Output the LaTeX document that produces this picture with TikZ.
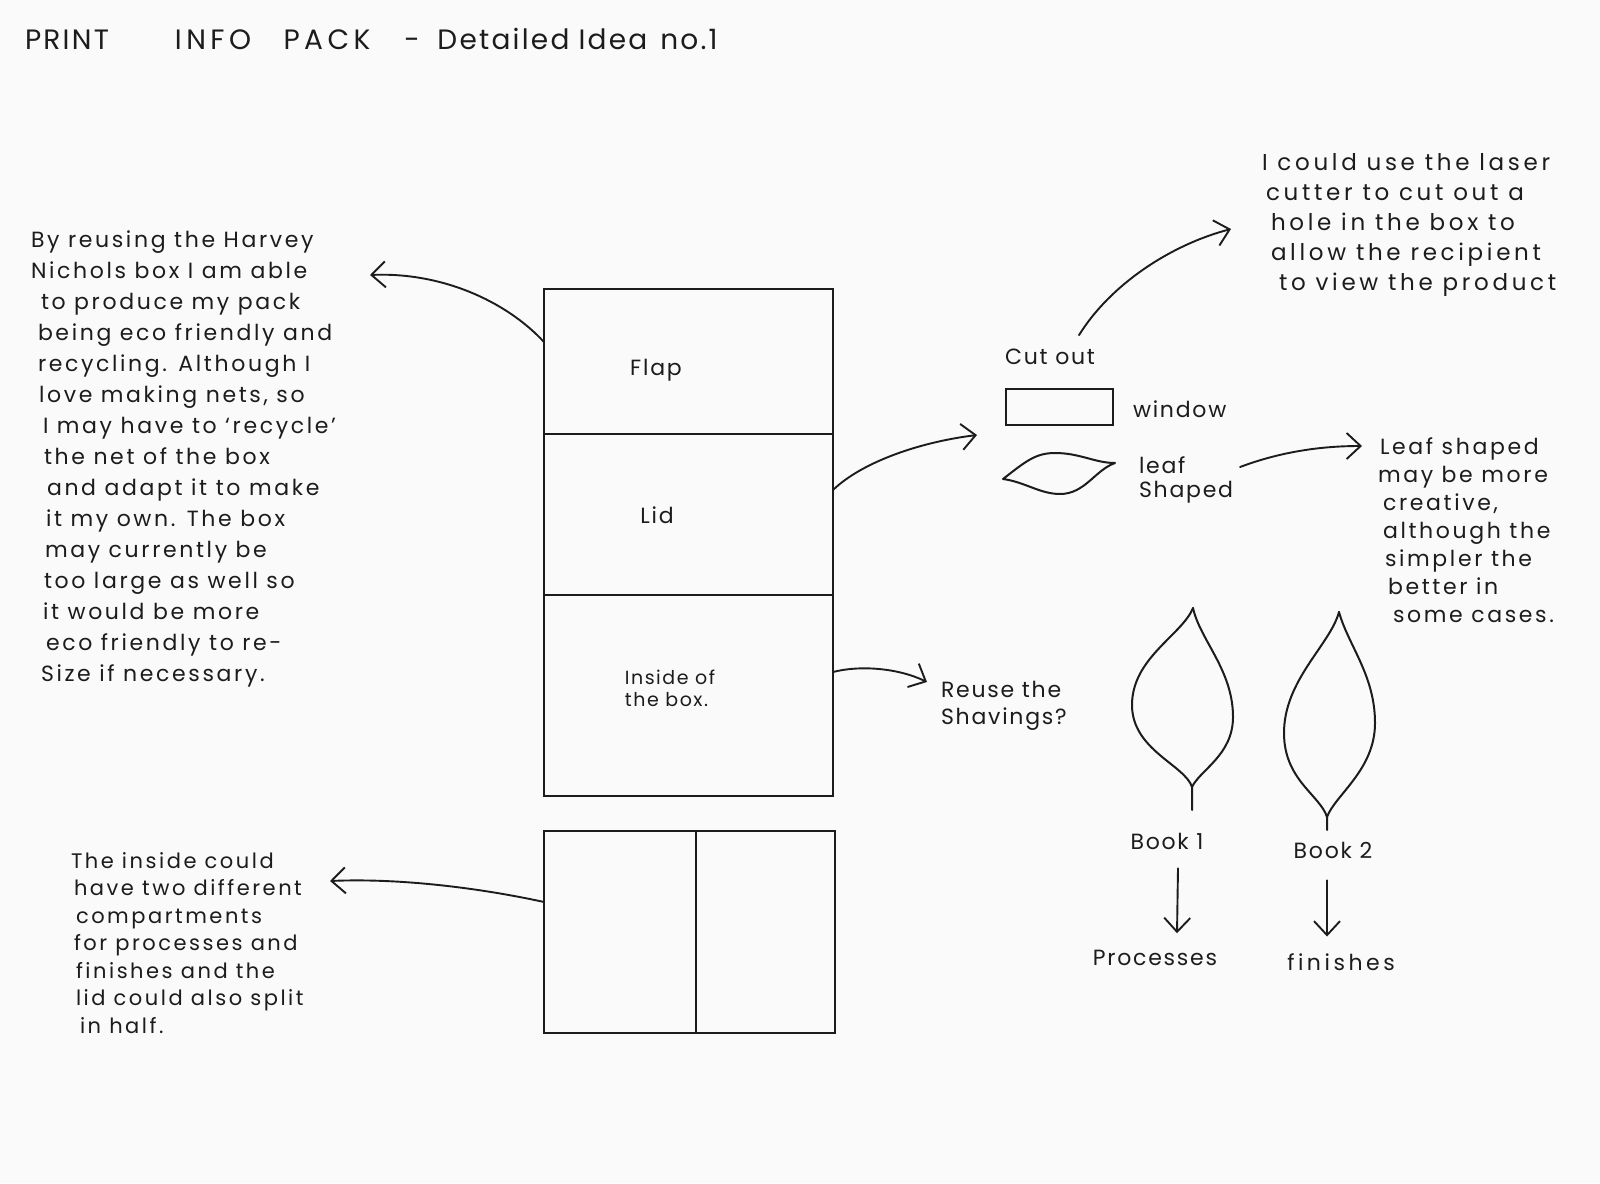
\documentclass[tikz,border=0pt]{standalone}
\usepackage{fontspec}
\setmainfont{Poppins}
\newfontfamily\hand[LetterSpace=8]{Poppins}
\newfontfamily\handmid[LetterSpace=12]{Poppins}
\newfontfamily\handwide[LetterSpace=16]{Poppins}
\usetikzlibrary{arrows.meta}
\definecolor{ink}{HTML}{1C1C1C}
\definecolor{paper}{HTML}{FAFAFA}
\begin{document}
\begin{tikzpicture}[x=1pt,y=-1pt,
  every node/.style={inner sep=0pt,outer sep=0pt},
  panel/.style={draw=ink,line width=2.5pt},
  shapeline/.style={draw=ink,line width=2pt,line join=round,line cap=round},
  link/.style={draw=ink,line width=1.9pt,line cap=round,-{Straight Barb[length=14pt,width=26pt]}},
  note/.style={text=ink,align=left,anchor=base west,font=\handmid\fontsize{22}{31}\selectfont},
  lbl/.style={text=ink,font=\hand\fontsize{22}{26}\selectfont,align=left}
]
\fill[paper] (0,0) rectangle (1600,1183);
\useasboundingbox (0,0) rectangle (1600,1183);

% title
\node[anchor=base west,text=ink,font=\hand\fontsize{28}{30}\selectfont] (title) at (22,49)
  {\makebox[90pt][c]{PRINT}\hspace{54pt}\makebox[94pt][c]{\handwide INFO}\hspace{18pt}\makebox[98pt][c]{\handwide PACK}\hspace{30pt}\makebox[12pt][c]{-}\hspace{23pt}\makebox[125pt][c]{Detailed}\hspace{15pt}\makebox[64pt][c]{Idea}\hspace{12pt}\makebox[64pt][c]{no.1}};

% notes (anchored at the baseline of their last line)
\node[note] (lefttext) at (31,681) {By reusing the Harvey\\
Nichols box I am able\\
\hspace*{10pt}to produce my pack\\
\hspace*{7pt}being eco friendly and\\
\hspace*{7pt}recycling. Although I\\
\hspace*{8pt}love making nets, so\\
\hspace*{12pt}I may have to ‘recycle’\\
\hspace*{13pt}the net of the box\\
\hspace*{16pt}and adapt it to make\\
\hspace*{15pt}it my own. The box\\
\hspace*{14pt}may currently be\\
\hspace*{13pt}too large as well so\\
\hspace*{12pt}it would be more\\
\hspace*{15pt}eco friendly to re-\\
\hspace*{10pt}Size if necessary.};

\node[note,font=\handwide\fontsize{23}{30}\selectfont] (toptext) at (1262,290) {I could use the laser\\
\hspace*{4pt}cutter to cut out a\\
\hspace*{9pt}hole in the box to\\
\hspace*{9pt}allow the recipient\\
\hspace*{17pt}to view the product};

\node[note,font=\handmid\fontsize{22}{28}\selectfont] (leaftext) at (1378,622) {\hspace*{2pt}Leaf shaped\\
may be more\\
\hspace*{5pt}creative,\\
\hspace*{5pt}although the\\
\hspace*{7pt}simpler the\\
\hspace*{10pt}better in\\
\hspace*{15pt}some cases.};

\node[note,font=\handmid\fontsize{21}{27.5}\selectfont] (bottext) at (71,1033) {The inside could\\
\hspace*{3pt}have two different\\
\hspace*{5pt}compartments\\
\hspace*{3pt}for processes and\\
\hspace*{5pt}finishes and the\\
\hspace*{5pt}lid could also split\\
\hspace*{9pt}in half.};

% box net
\node[panel,minimum width=289pt,minimum height=145pt] (flap) at (688.5,361.5) {};
\node[panel,minimum width=289pt,minimum height=161pt] (lid) at (688.5,514.5) {};
\node[panel,minimum width=289pt,minimum height=201pt] (inside) at (688.5,695.5) {};
\node[panel,minimum width=152pt,minimum height=202pt] (lefthalf) at (620,932) {};
\node[panel,minimum width=139pt,minimum height=202pt] (righthalf) at (765.5,932) {};

\node[lbl] (flaplbl) at (656,370) {Flap};
\node[lbl] (lidlbl) at (657,515) {Lid};
\node[lbl,font=\hand\fontsize{19}{22}\selectfont] (insidelbl) at (670,688) {Inside of\\the box.};

% cut out options
\node[lbl] (cutlbl) at (1050,357) {Cut out};
\node[panel,line width=2pt,minimum width=107pt,minimum height=36pt] (win) at (1059.5,407) {};
\node[lbl,anchor=west] (winlbl) at (1133,409) {window};
\draw[shapeline] (1003,479) .. controls (1025,462) and (1035,453) .. (1055,453)
  .. controls (1080,453) and (1095,463) .. (1115,463)
  .. controls (1095,470) and (1085,494) .. (1060,494)
  .. controls (1040,494) and (1025,482) .. cycle;
\node[lbl,font=\hand\fontsize{22}{24}\selectfont,anchor=west] (leaflbl) at (1139,480) {leaf\\Shaped};
\node[lbl,anchor=west,font=\hand\fontsize{22}{27}\selectfont] (reuselbl) at (941,706) {Reuse the\\Shavings?};

% leaves
\draw[shapeline] (1193,608) .. controls (1182,635) and (1132,658) .. (1132,705)
  .. controls (1132,750) and (1185,765) .. (1192,787) -- (1192,810);
\draw[shapeline] (1193,608) .. controls (1200,640) and (1233,670) .. (1233,717)
  .. controls (1233,755) and (1200,770) .. (1192,787);
\draw[shapeline] (1339,612) .. controls (1330,645) and (1284,680) .. (1284,733)
  .. controls (1284,780) and (1320,795) .. (1327,817) -- (1327,830);
\draw[shapeline] (1339,612) .. controls (1348,645) and (1375,675) .. (1375,723)
  .. controls (1375,770) and (1335,795) .. (1327,817);

\node[lbl] (book1) at (1167,841) {Book 1};
\node[lbl] (book2) at (1333,850) {Book 2};
\node[lbl] (proc) at (1155,958) {Processes};
\node[lbl,font=\handwide\fontsize{22}{26}\selectfont] (fin) at (1341,962) {finishes};

% connectors
\coordinate (tipA) at (370,275);
\coordinate (tipB) at (977,435);
\coordinate (tipC) at (1231,229);
\coordinate (tipD) at (1362,446);
\coordinate (tipE) at (330,881);
\draw[link] ([shift={(0,-19.5)}]flap.west) .. controls (505,300) and (440,272) .. (tipA);
\draw[link] ([shift={(0,-24.5)}]lid.east) .. controls (862,462) and (920,442) .. (tipB);
\draw[link] ([shift={(0,-23.5)}]inside.east) .. controls (860,665) and (898,668) .. ([shift={(-14,-24)}]reuselbl.west);
\draw[link] ([shift={(29,-14)}]cutlbl.north) .. controls (1110,285) and (1170,245) .. (tipC);
\draw[link] ([shift={(7,-13)}]leaflbl.east) .. controls (1280,452) and (1320,446) .. (tipD);
\draw[link] ([shift={(0,-30)}]lefthalf.west) .. controls (480,888) and (400,878) .. (tipE);
\draw[link] ([shift={(11,19)}]book1.south) -- ([shift={(22,-17)}]proc.north);
\draw[link] ([shift={(-6,22)}]book2.south) -- ([shift={(-14,-17)}]fin.north);
\end{tikzpicture}
\end{document}
